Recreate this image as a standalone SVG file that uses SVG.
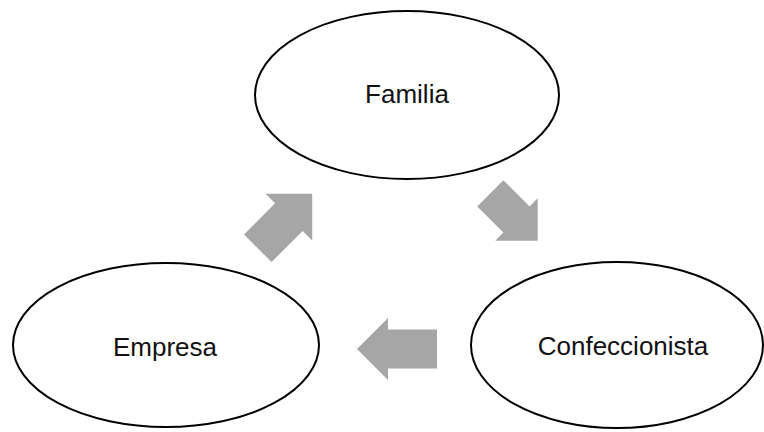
<svg xmlns="http://www.w3.org/2000/svg" width="764" height="432" viewBox="0 0 764 432">
<defs>
<style>
.node ellipse{fill:#ffffff;stroke:#000000;stroke-width:2}
.node text{font-family:"Liberation Sans",Arial,sans-serif;font-size:26px;fill:#111111;text-anchor:middle}
.arr{fill:#a6a6a6;stroke:none}
</style>
</defs>
<rect width="764" height="432" fill="#ffffff"/>
<g id="connectors">
<path class="arr" transform="translate(285,221) rotate(-45)" d="M -38.5,-19.5 L 5.5,-19.5 L 5.5,-33 L 38.5,0 L 5.5,33 L 5.5,19.5 L -38.5,19.5 Z"/>
<path class="arr" transform="translate(514,217) rotate(45)" d="M -33.5,-18.5 L 3.5,-18.5 L 3.5,-30 L 33.5,0 L 3.5,30 L 3.5,18.5 L -33.5,18.5 Z"/>
<path class="arr" transform="translate(397,349) rotate(180)" d="M -40,-19.5 L 9,-19.5 L 9,-31 L 40,0 L 9,31 L 9,19.5 L -40,19.5 Z"/>
</g>
<g id="familia" class="node">
<ellipse cx="407" cy="95" rx="152" ry="84"/>
<text x="407" y="103">Familia</text>
</g>
<g id="empresa" class="node">
<ellipse cx="166" cy="345" rx="153" ry="82"/>
<text x="165" y="356">Empresa</text>
</g>
<g id="confeccionista" class="node">
<ellipse cx="617" cy="345" rx="146" ry="83"/>
<text x="623" y="355">Confeccionista</text>
</g>
</svg>
